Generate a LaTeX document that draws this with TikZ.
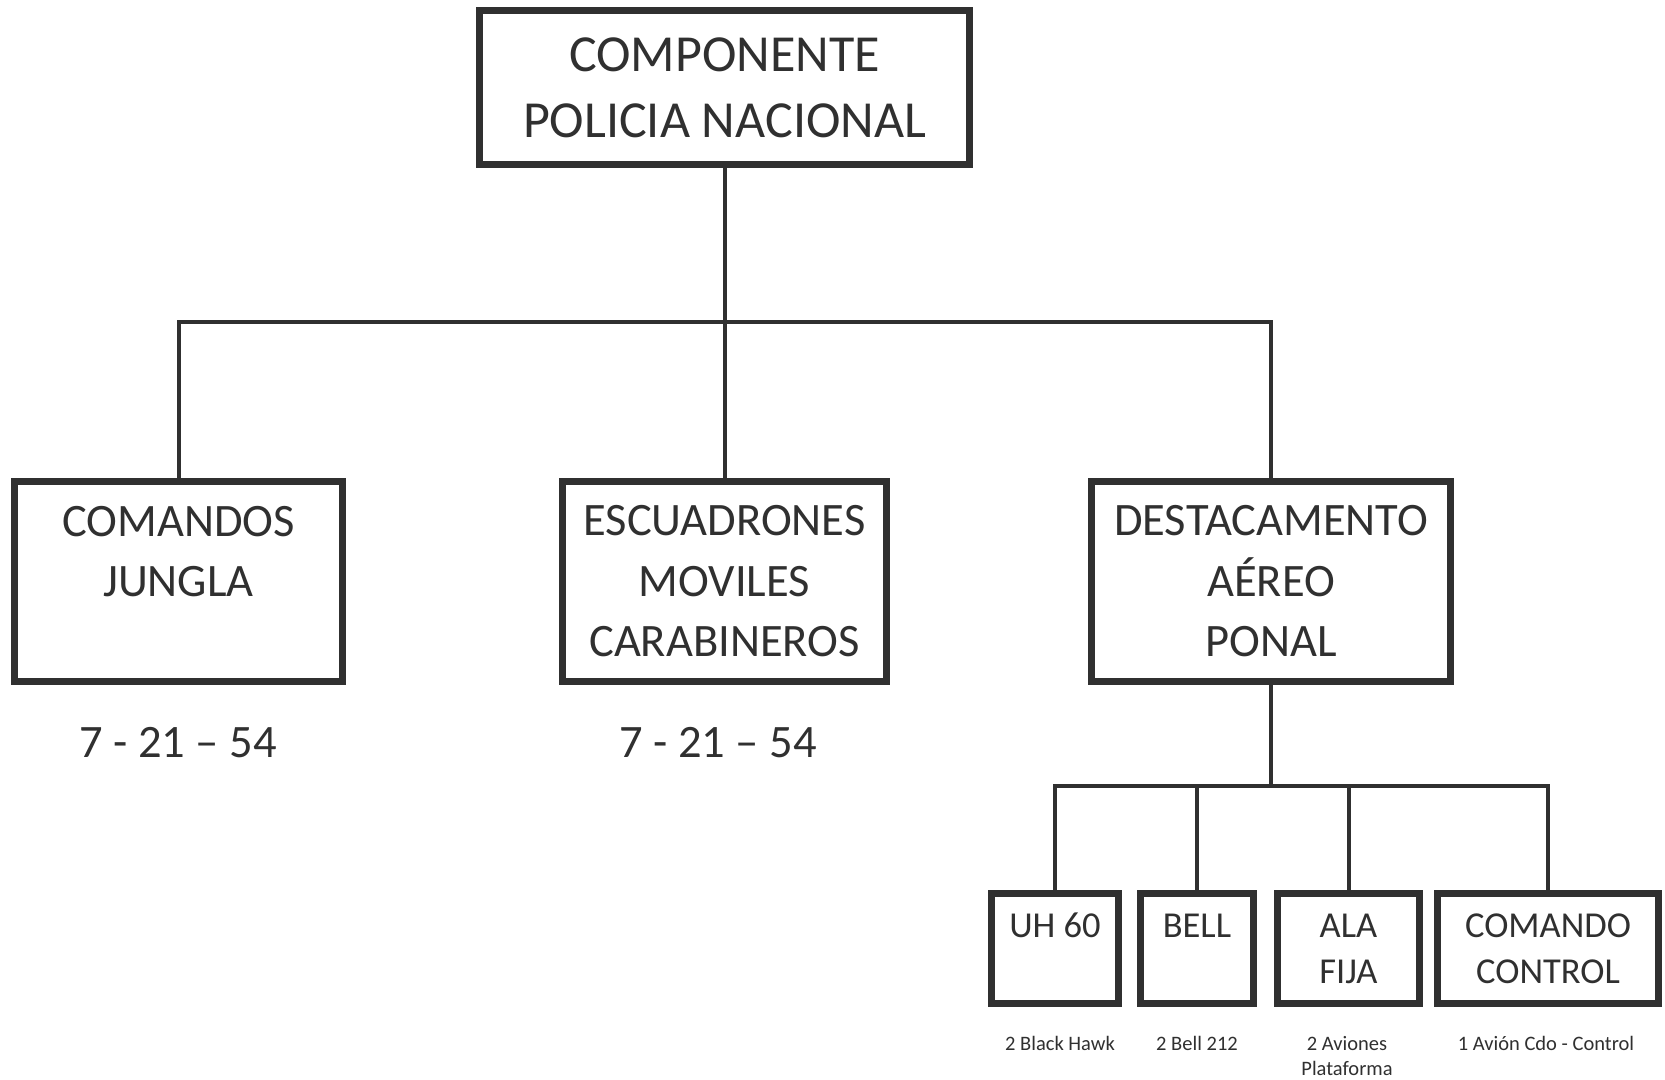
\documentclass[tikz,border=0pt]{standalone}
\usepackage{fontspec}
\setmainfont{Carlito}
\definecolor{ink}{HTML}{303030}
\begin{document}
\begin{tikzpicture}[x=1pt,y=-1pt,
  box/.style={draw=ink, line width=7pt, text=ink, align=center, inner sep=0pt, line join=miter},
  bigbox/.style={box, font=\fontsize{52}{66}\selectfont},
  midbox/.style={box, font=\fontsize{46.5}{60.5}\selectfont, minimum height=200pt},
  smallbox/.style={box, font=\fontsize{36.5}{46}\selectfont, minimum height=110pt},
  num/.style={text=ink, font=\fontsize{46.5}{56}\selectfont, inner sep=0pt},
  note/.style={text=ink, font=\fontsize{20.5}{25}\selectfont, align=center, inner sep=0pt, anchor=north},
  conn/.style={draw=ink, line width=4pt}]
\fill[white] (0,0) rectangle (1665,1079);
\useasboundingbox (0,0) rectangle (1665,1079);

\node[bigbox, minimum width=490pt, minimum height=154pt] (top) at (724.5,87.5) {COMPONENTE\\POLICIA NACIONAL};

\node[midbox, minimum width=328pt] (cj) at (178.5,581.5) {COMANDOS\\JUNGLA\\\phantom{X}};
\node[midbox, minimum width=324pt] (emc) at (724.5,581.5) {ESCUADRONES\\MOVILES\\CARABINEROS};
\node[midbox, minimum width=359pt] (dap) at (1271,581.5) {DESTACAMENTO\\AÉREO\\PONAL};

\node[num] (n1) at (178,743) {7 - 21 – 54};
\node[num] (n2) at (718,743) {7 - 21 – 54};

\node[smallbox, minimum width=127pt] (uh) at (1055,948.5) {UH 60\\\phantom{X}};
\node[smallbox, minimum width=113pt] (bell) at (1197,948.5) {BELL\\\phantom{X}};
\node[smallbox, minimum width=142pt] (ala) at (1348.5,948.5) {ALA\\FIJA};
\node[smallbox, minimum width=221pt] (cc) at (1548,948.5) {COMANDO\\CONTROL};

\node[note] (l1) at (1060,1036) {2 Black Hawk};
\node[note] (l2) at (1197,1036) {2 Bell 212};
\node[note] (l3) at (1347,1036) {2 Aviones\\Plataforma};
\node[note] (l4) at (1546,1036) {1 Avión Cdo - Control};

\coordinate (bus) at (724.5,322);
\coordinate (sbus) at (1271,786);
\draw[conn] (top.south) -- (bus);
\draw[conn] (bus) -| (cj.north);
\draw[conn] (bus) -| (dap.north);
\draw[conn] (bus) -- (emc.north);
\draw[conn] (dap.south) -- (sbus);
\draw[conn] (sbus) -| (uh.north);
\draw[conn] (sbus) -| (bell.north);
\draw[conn] (sbus) -| (ala.north);
\draw[conn] (sbus) -| (cc.north);
\end{tikzpicture}
\end{document}
